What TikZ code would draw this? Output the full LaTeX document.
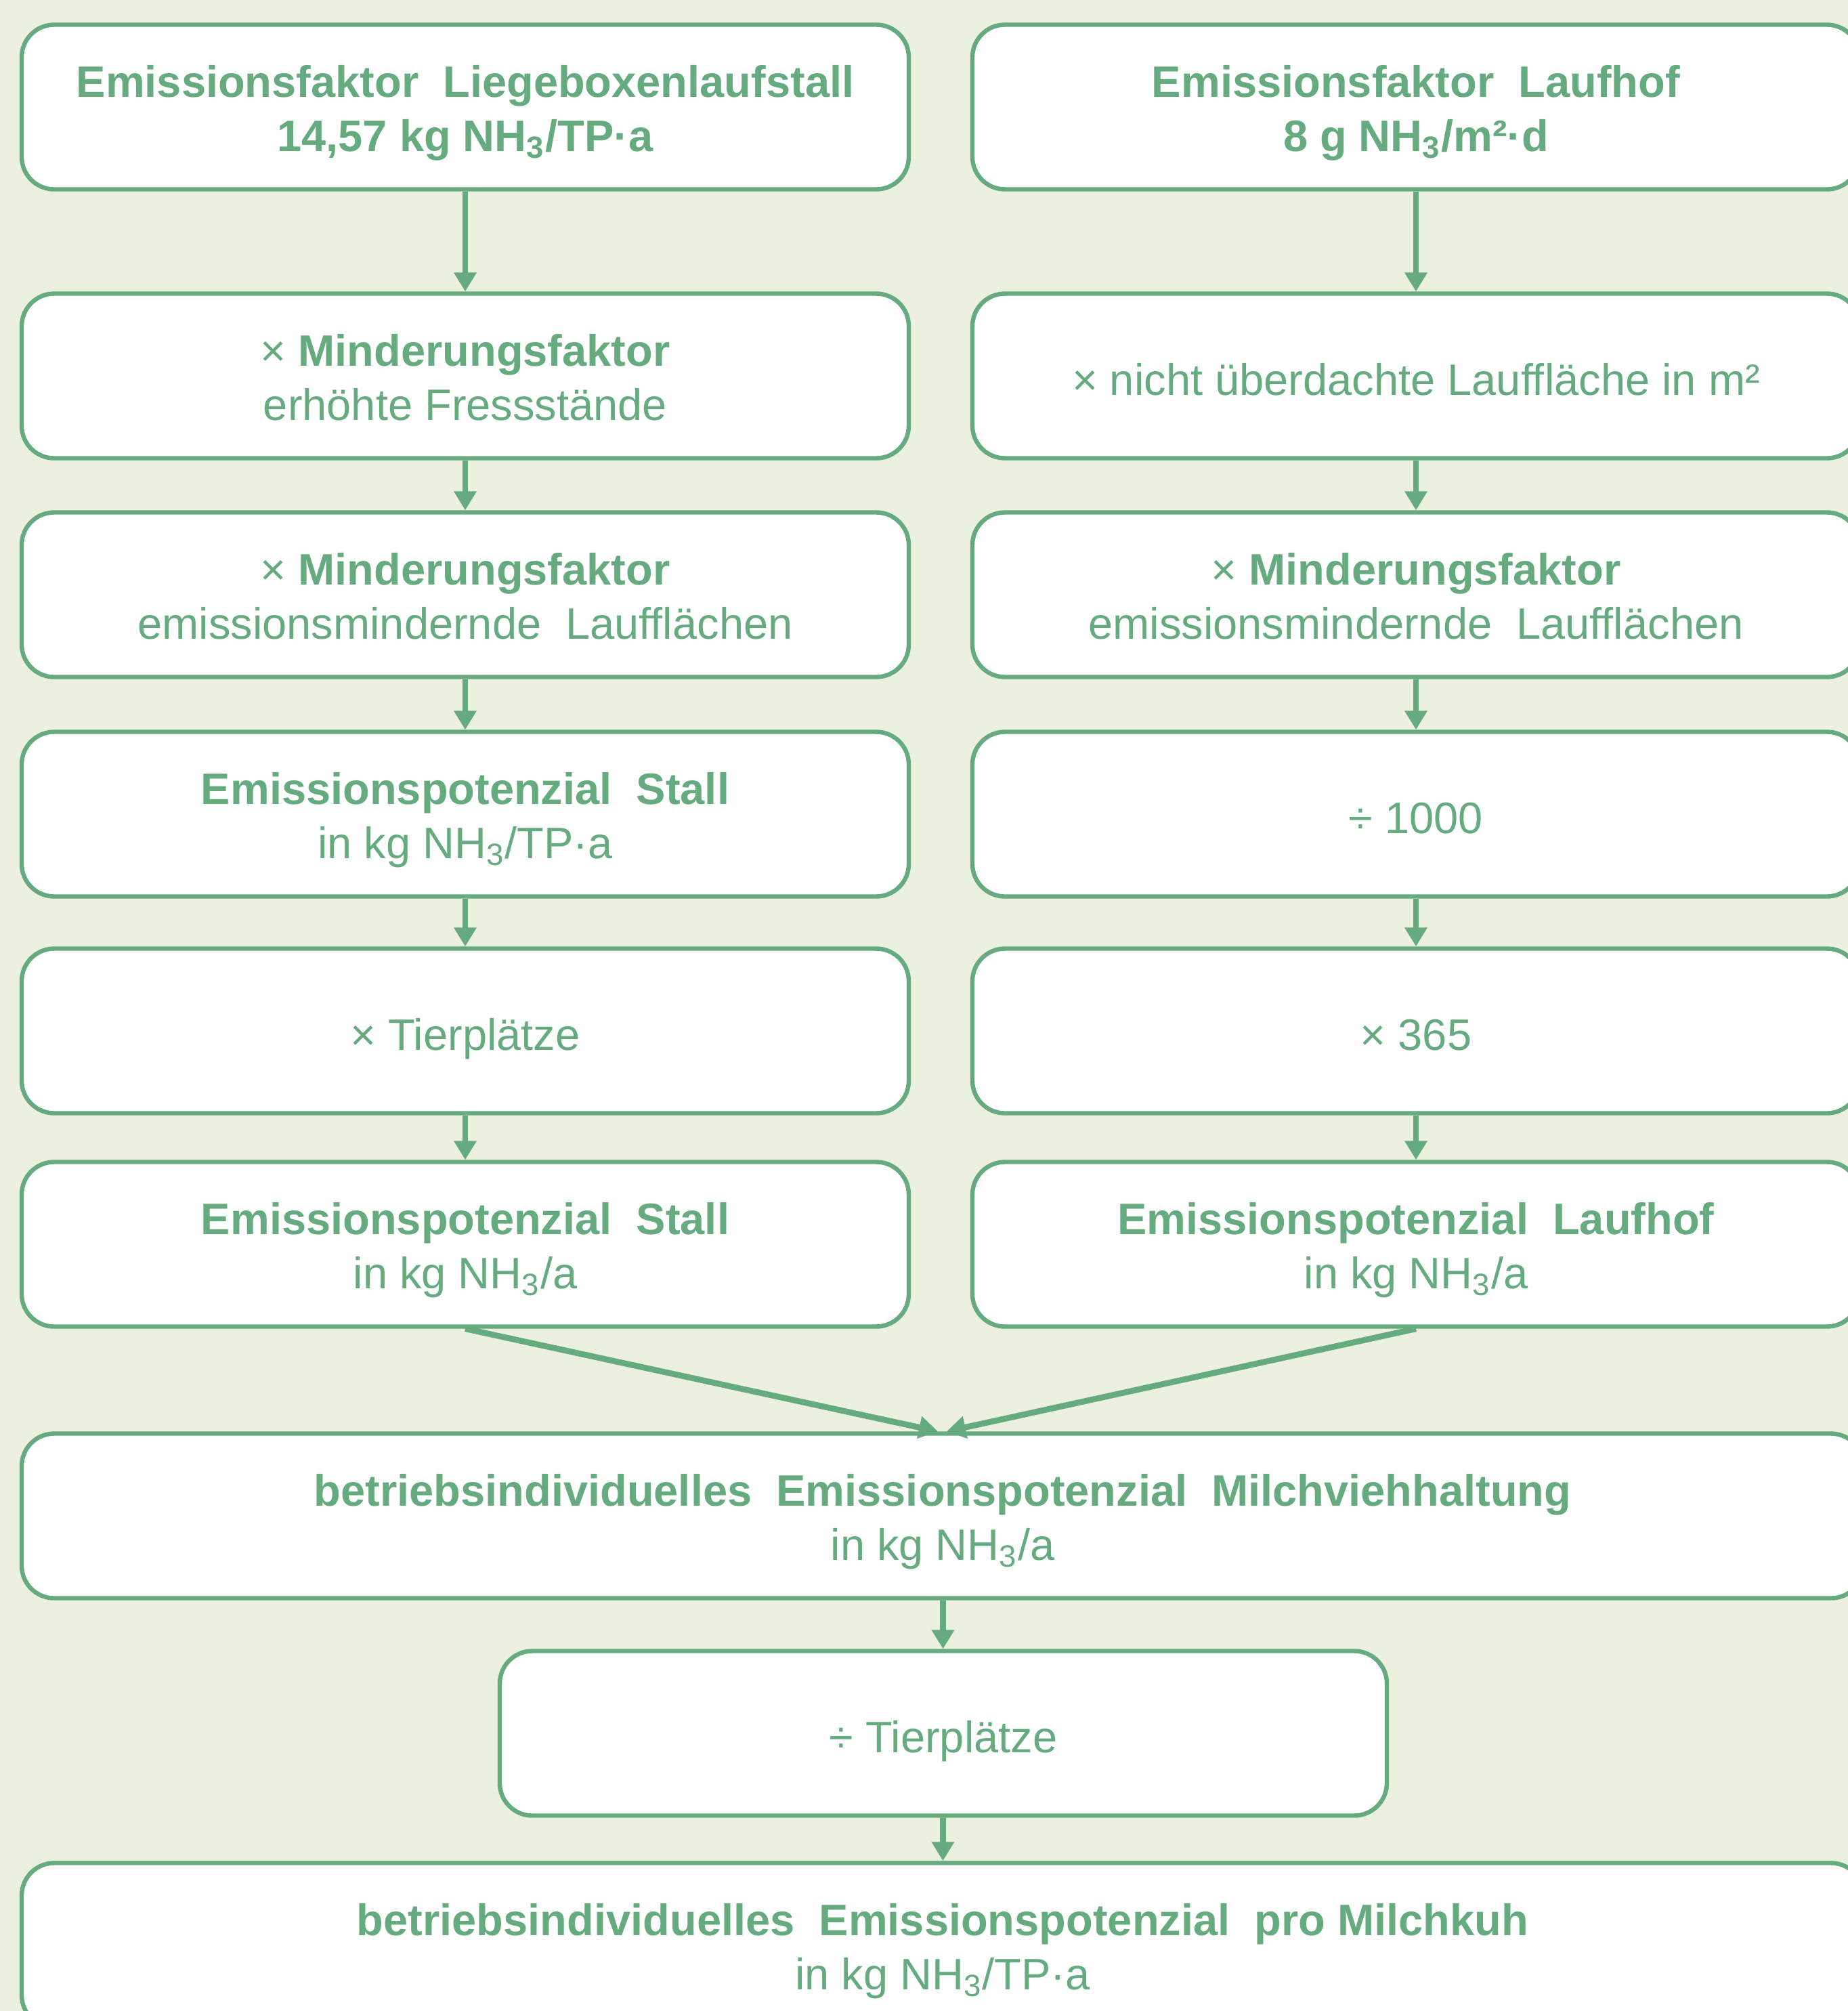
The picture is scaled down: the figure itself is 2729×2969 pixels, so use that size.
\documentclass[tikz,border=0pt]{standalone}
\usepackage{fontspec}
\setmainfont{Liberation Sans}
\usetikzlibrary{arrows.meta}
\definecolor{grn}{RGB}{102,170,128}
\definecolor{bgc}{RGB}{235,240,223}
\newcommand{\nhd}{NH\textsubscript{3}}
\begin{document}
\begin{tikzpicture}[x=0.25pt,y=-0.25pt,
  box/.style={draw=grn, line width=1.6pt, fill=white, rounded corners=12pt,
    minimum width=327.5pt, minimum height=60.75pt, inner sep=0pt,
    align=center, text=grn, font=\fontsize{16.25}{20}\selectfont,
    text height=14pt, text depth=0pt},
  box2/.style={box, text height=32.5pt, text depth=0pt},
  wide/.style={box2, minimum width=680pt},
  flow/.style={draw=grn, line width=2.2pt, -{Triangle[length=7pt,width=8pt]}}]
\fill[bgc] (0,0) rectangle (2729,2969);
\useasboundingbox (0,0) rectangle (2729,2969);

% left column
\node[box2] (l1) at (687,158) {\textbf{Emissionsfaktor~ Liegeboxenlaufstall}\\\textbf{14,57 kg \nhd/TP·a}};
\node[box2] (l2) at (687,555) {× \textbf{Minderungsfaktor}\\erhöhte Fressstände};
\node[box2] (l3) at (687,878) {× \textbf{Minderungsfaktor}\\emissionsmindernde~ Laufflächen};
\node[box2] (l4) at (687,1202) {\textbf{Emissionspotenzial~ Stall}\\in kg \nhd/TP·a};
\node[box] (l5) at (687,1522) {× Tierplätze};
\node[box2] (l6) at (687,1837) {\textbf{Emissionspotenzial~ Stall}\\in kg \nhd/a};

% right column
\node[box2] (r1) at (2091,158) {\textbf{Emissionsfaktor~ Laufhof}\\\textbf{8 g \nhd/m²·d}};
\node[box] (r2) at (2091,555) {× nicht überdachte Lauffläche in m²};
\node[box2] (r3) at (2091,878) {× \textbf{Minderungsfaktor}\\emissionsmindernde~ Laufflächen};
\node[box] (r4) at (2091,1202) {÷ 1000};
\node[box] (r5) at (2091,1522) {× 365};
\node[box2] (r6) at (2091,1837) {\textbf{Emissionspotenzial~ Laufhof}\\in kg \nhd/a};

% bottom
\node[wide] (big) at (1392,2238) {\textbf{betriebsindividuelles~ Emissionspotenzial~ Milchviehhaltung}\\in kg \nhd/a};
\node[box] (mid) at (1393,2559) {÷ Tierplätze};
\node[wide] (bot) at (1392,2872) {\textbf{betriebsindividuelles~ Emissionspotenzial~ pro Milchkuh}\\in kg \nhd/TP·a};

% connectors
\draw[flow] (l1) -- (l2);
\draw[flow] (l2) -- (l3);
\draw[flow] (l3) -- (l4);
\draw[flow] (l4) -- (l5);
\draw[flow] (l5) -- (l6);
\draw[flow] (r1) -- (r2);
\draw[flow] (r2) -- (r3);
\draw[flow] (r3) -- (r4);
\draw[flow] (r4) -- (r5);
\draw[flow] (r5) -- (r6);
\draw[flow] (l6.south) -- ([xshift=-1.75pt]big.north);
\draw[flow] (r6.south) -- ([xshift=1.5pt]big.north);
\draw[flow] (big) -- (mid);
\draw[flow] (mid) -- (bot);
\end{tikzpicture}
\end{document}
